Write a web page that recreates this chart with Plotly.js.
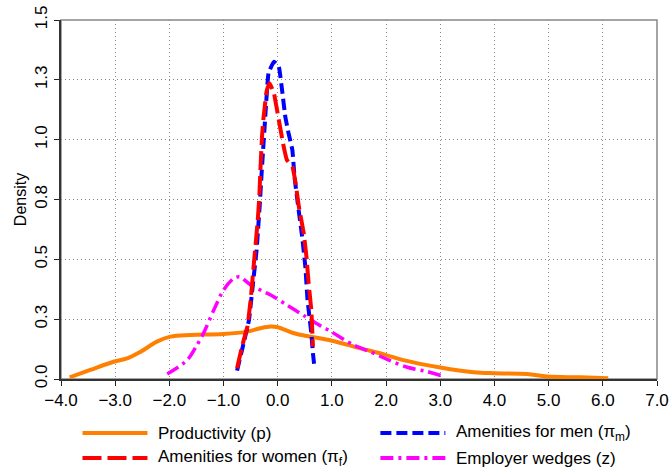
<!DOCTYPE html>
<html>
<head>
<meta charset="utf-8">
<script src="https://cdn.plot.ly/plotly-3.0.1.min.js"></script>
<style>html,body{margin:0;padding:0;background:#fff;}#chart{width:670px;height:470px;}</style>
</head>
<body>
<div id="chart"></div>
<script>
// Productivity (p)
var prodX = [-3.84,-3.46,-3.03,-2.78,-2.53,-2.23,-1.98,-1.61,-1.0,-0.56,-0.32,-0.13,0.0,0.30,0.60,1.0,1.53,2.0,2.32,3.0,3.62,4.0,4.6,4.97,5.58,6.1];
var prodY = [0.007,0.038,0.072,0.086,0.114,0.156,0.177,0.184,0.188,0.198,0.212,0.219,0.216,0.191,0.177,0.160,0.128,0.100,0.079,0.048,0.028,0.024,0.021,0.010,0.007,0.003];
// Amenities for men
var menX = [-0.75,-0.63,-0.53,-0.47,-0.39,-0.33,-0.30,-0.27,-0.23,-0.17,-0.07,0.02,0.08,0.14,0.20,0.27,0.31,0.37,0.45,0.51,0.55,0.62,0.65,0.68];
var menY = [0.035,0.149,0.247,0.372,0.539,0.734,0.850,0.957,1.096,1.278,1.326,1.305,1.208,1.096,1.027,0.957,0.845,0.734,0.595,0.469,0.330,0.191,0.107,0.045];
// Amenities for women
var womX = [-0.75,-0.66,-0.56,-0.50,-0.44,-0.37,-0.34,-0.32,-0.29,-0.26,-0.20,-0.15,-0.07,0.02,0.11,0.17,0.27,0.33,0.39,0.48,0.53,0.57,0.62,0.65];
var womY = [0.045,0.135,0.219,0.330,0.483,0.660,0.760,0.873,1.013,1.096,1.208,1.236,1.194,1.082,0.971,0.915,0.887,0.818,0.720,0.609,0.511,0.400,0.288,0.135];
// Employer wedges (z)
var wedX = [-2.04,-1.67,-1.49,-1.37,-1.18,-1.0,-0.81,-0.70,-0.50,-0.26,-0.13,0.17,0.48,0.79,0.97,1.40,1.71,2.02,2.39,2.76,3.03];
var wedY = [0.021,0.079,0.142,0.191,0.288,0.372,0.421,0.427,0.393,0.365,0.351,0.309,0.265,0.222,0.200,0.142,0.114,0.082,0.049,0.031,0.013];

var xTicks = [-4,-3,-2,-1,0,1,2,3,4,5,6,7];
var yTicks = [0,0.25,0.5,0.75,1.0,1.25,1.5];
var yTickText = ["0.0","0.3","0.5","0.8","1.0","1.3","1.5"];
var seriesNames = ['Productivity (p)', 'Amenities for men (π<sub>m</sub>)', 'Amenities for women (π<sub>f</sub>)', 'Employer wedges (z)'];

var styles = {
  prod: {color: '#ff7f00', width: 4, shape: 'spline', smoothing: 1},
  men:  {color: '#0000ff', width: 4, shape: 'spline', smoothing: 0.3, dash: '11px,5px'},
  wom:  {color: '#ff0000', width: 4, shape: 'spline', smoothing: 0.3, dash: '19px,6px'},
  wed:  {color: '#ff00ff', width: 3.5, shape: 'spline', smoothing: 0.8, dash: '13px,5px,3px,5px'}
};

var traces = [
  {x: prodX, y: prodY, name: seriesNames[0], mode: 'lines', line: styles.prod},
  {x: wedX, y: wedY, name: seriesNames[3], mode: 'lines', line: styles.wed},
  {x: menX, y: menY, name: seriesNames[1], mode: 'lines', line: styles.men},
  {x: womX, y: womY, name: seriesNames[2], mode: 'lines', line: styles.wom}
];

// manual legend (pixel positions converted to paper coordinates)
var L = 60.5, R = 656.7, T = 20, B = 379;
function px(p) { return (p - L) / (R - L); }
function py(p) { return (B - p) / (B - T); }
var legendItems = [
  {name: seriesNames[0], st: styles.prod, lx: 82, ly: 433},
  {name: seriesNames[1], st: styles.men, lx: 380, ly: 433},
  {name: seriesNames[2], st: styles.wom, lx: 82, ly: 458},
  {name: seriesNames[3], st: styles.wed, lx: 380, ly: 458}
];
var font = 'Liberation Sans, Arial, sans-serif';
var shapes = [{type: 'rect', xref: 'paper', yref: 'paper', x0: 0, x1: 1, y0: 0, y1: 1,
               line: {color: '#888', width: 1.5}, layer: 'below'}];
var annotations = [];
legendItems.forEach(function (it) {
  shapes.push({type: 'line', xref: 'paper', yref: 'paper', x0: px(it.lx), x1: px(it.lx + 65),
               y0: py(it.ly), y1: py(it.ly),
               line: {color: it.st.color, width: 4, dash: it.st.dash || 'solid'}});
  annotations.push({xref: 'paper', yref: 'paper', x: px(it.lx + 74), y: py(it.ly),
                    xanchor: 'left', yanchor: 'middle', showarrow: false, text: it.name,
                    font: {family: font, size: 17, color: '#000'}});
});

var layout = {
  width: 670, height: 470,
  margin: {l: 60.5, r: 13.3, t: 20, b: 91},
  paper_bgcolor: '#fff', plot_bgcolor: '#fff',
  font: {family: font, size: 17, color: '#000'},
  showlegend: false,
  xaxis: {range: [-4, 7], tickvals: xTicks, tickformat: '.1f', ticks: 'outside', ticklen: 5,
          tickcolor: '#222', tickwidth: 1, showline: true, linecolor: '#333', linewidth: 2,
          showgrid: true, gridcolor: '#888', griddash: '1px,3px', gridwidth: 1, zeroline: false,
          tickfont: {size: 17}, automargin: false},
  yaxis: {range: [0, 1.5], tickvals: yTicks, ticktext: yTickText, tickangle: -90, ticks: 'outside', ticklen: 5,
          tickcolor: '#222', tickwidth: 1, showline: true, linecolor: '#333', linewidth: 2,
          showgrid: true, gridcolor: '#888', griddash: '1px,3px', gridwidth: 1, zeroline: false,
          tickfont: {size: 17}, automargin: false,
          title: {text: 'Density', font: {size: 16}, standoff: 2}},
  shapes: shapes,
  annotations: annotations
};

Plotly.newPlot('chart', traces, layout, {displayModeBar: false, staticPlot: true});
</script>
</body>
</html>
